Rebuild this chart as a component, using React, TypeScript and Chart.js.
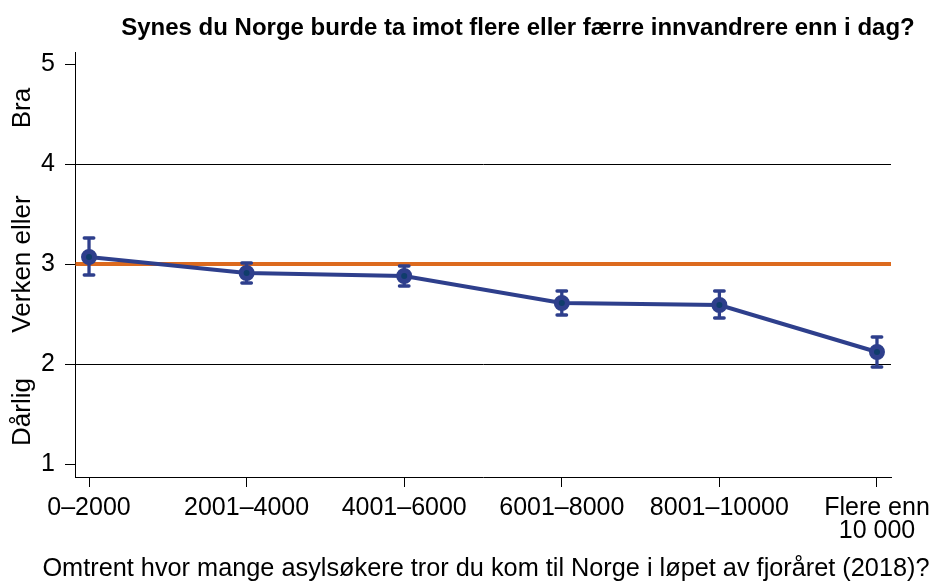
import React, { useEffect, useRef } from "react";
import { Chart, registerables } from "chart.js";

Chart.register(...registerables);

const titleText = "Synes du Norge burde ta imot flere eller færre innvandrere enn i dag?";
const xTitle = "Omtrent hvor mange asylsøkere tror du kom til Norge i løpet av fjoråret (2018)?";
const categories: (string | string[])[] = [
  "0–2000",
  "2001–4000",
  "4001–6000",
  "6001–8000",
  "8001–10000",
  ["Flere enn", "10 000"],
];
const means = [3.07, 2.91, 2.88, 2.61, 2.59, 2.12];
const upper = [3.26, 3.01, 2.98, 2.73, 2.73, 2.27];
const lower = [2.89, 2.81, 2.78, 2.49, 2.46, 1.97];
const yTicks = [1, 2, 3, 4, 5];
const gridValues = [2, 4];
const referenceValue = 3;
const sideLabels = ["Bra", "Verken eller", "Dårlig"];
const sideLabelValues = [4.56, 3.0, 1.52];

const FONT = "'Liberation Sans', Arial, sans-serif";
const NAVY = "#2e3f8c";
const DOT = "#0f3d6b";
const ORANGE = "#dc6a1e";

const annot = {
  id: "annot",
  beforeDatasetsDraw(chart: any) {
    const { ctx, chartArea, scales } = chart;
    const y = scales.y;
    const x = scales.x;
    ctx.save();
    ctx.strokeStyle = ORANGE;
    ctx.lineWidth = 4;
    ctx.beginPath();
    const ry = y.getPixelForValue(referenceValue);
    ctx.moveTo(chartArea.left + 0.5, ry);
    ctx.lineTo(chartArea.right, ry);
    ctx.stroke();
    ctx.strokeStyle = NAVY;
    ctx.lineWidth = 3.3;
    ctx.lineCap = "round";
    for (let i = 0; i < means.length; i++) {
      const px = x.getPixelForValue(i);
      const pu = y.getPixelForValue(upper[i]);
      const pl = y.getPixelForValue(lower[i]);
      ctx.beginPath();
      ctx.moveTo(px, pu);
      ctx.lineTo(px, pl);
      ctx.moveTo(px - 4.8, pu);
      ctx.lineTo(px + 4.8, pu);
      ctx.moveTo(px - 4.8, pl);
      ctx.lineTo(px + 4.8, pl);
      ctx.stroke();
    }
    ctx.restore();
  },
  afterDraw(chart: any) {
    const { ctx, scales, chartArea } = chart;
    const y = scales.y;
    ctx.save();
    ctx.fillStyle = "#000";
    ctx.font = `bold 24px ${FONT}`;
    ctx.textAlign = "center";
    ctx.textBaseline = "alphabetic";
    ctx.fillText(titleText, 518, 35);
    ctx.font = `25.3px ${FONT}`;
    ctx.fillText(xTitle, (chartArea.left + chartArea.right) / 2 + 3, 576);
    ctx.font = `26px ${FONT}`;
    ctx.textBaseline = "middle";
    for (let i = 0; i < sideLabels.length; i++) {
      ctx.save();
      ctx.translate(22.5, y.getPixelForValue(sideLabelValues[i]));
      ctx.rotate(-Math.PI / 2);
      ctx.fillText(sideLabels[i], 0, 0);
      ctx.restore();
    }
    ctx.restore();
  },
};

export default function App() {
  const ref = useRef<HTMLCanvasElement | null>(null);
  useEffect(() => {
    if (!ref.current) return;
    const chart = new Chart(ref.current, {
      type: "line",
      data: {
        datasets: [
          {
            data: means.map((v, i) => ({ x: i, y: v })),
            borderColor: NAVY,
            borderWidth: 4,
            pointRadius: 5.5,
            pointBorderWidth: 5,
            pointBackgroundColor: DOT,
            pointBorderColor: NAVY,
            tension: 0,
          },
        ],
      },
      options: {
        animation: false,
        responsive: false,
        devicePixelRatio: 1,
        layout: { padding: { top: 52, right: 40, left: 0, bottom: 0 } },
        plugins: { legend: { display: false }, tooltip: { enabled: false }, title: { display: false } },
        scales: {
          x: {
            type: "linear",
            min: -0.089,
            max: 5.089,
            afterBuildTicks: (axis: any) => {
              axis.ticks = categories.map((_, i) => ({ value: i }));
            },
            afterFit: (axis: any) => {
              axis.height = 107;
              axis.paddingLeft = 0;
              axis.paddingRight = 0;
            },
            ticks: {
              autoSkip: false,
              maxRotation: 0,
              padding: 9,
              color: "#000",
              font: { family: FONT, size: 25, lineHeight: 0.94 },
              callback: (v: any) => categories[v as number],
            },
            grid: { drawOnChartArea: false, tickColor: "#000", tickLength: 10, lineWidth: 1 },
            border: { display: true, color: "#000", width: 1 },
          },
          y: {
            type: "linear",
            min: 0.87,
            max: 5.12,
            afterBuildTicks: (axis: any) => {
              axis.ticks = yTicks.map((v) => ({ value: v }));
            },
            afterFit: (axis: any) => {
              axis.width = 75;
            },
            ticks: {
              padding: 10,
              color: "#000",
              font: { family: FONT, size: 25 },
              callback: (v: any) => String(v),
            },
            grid: {
              color: (c: any) => (gridValues.includes(c.tick?.value) ? "#000" : "rgba(0,0,0,0)"),
              tickColor: "#000",
              tickLength: 10,
              lineWidth: 1,
            },
            border: { display: true, color: "#000", width: 1 },
          },
        },
      },
      plugins: [annot],
    });
    return () => chart.destroy();
  }, []);
  return (
    <div style={{ position: "fixed", left: 0, top: 0, width: 931, height: 584, background: "#fff" }}>
      <canvas ref={ref} width={931} height={584} style={{ display: "block" }} />
    </div>
  );
}
